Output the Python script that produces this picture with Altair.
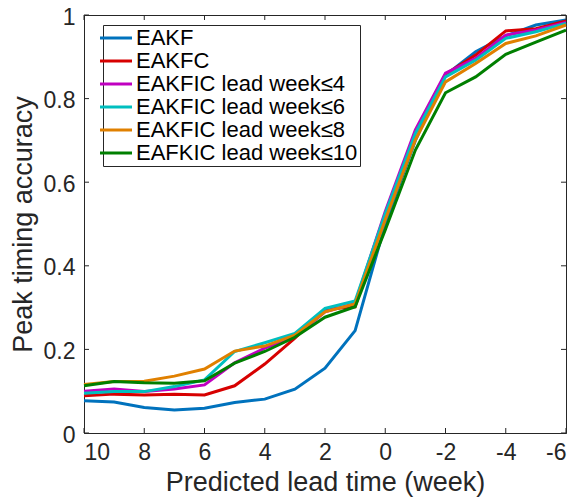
import altair as alt
import pandas as pd

weeks = [10, 9, 8, 7, 6, 5, 4, 3, 2, 1, 0, -1, -2, -3, -4, -5, -6]

series_names = [
    "EAKF",
    "EAKFC",
    "EAKFIC lead week≤4",
    "EAKFIC lead week≤6",
    "EAKFIC lead week≤8",
    "EAFKIC lead week≤10",
]
series_colors = ["#0072BD", "#D70000", "#C000C0", "#00BFBF", "#E08000", "#007F00"]

eakf = [0.077, 0.074, 0.061, 0.055, 0.059, 0.073, 0.081, 0.105, 0.155, 0.245, 0.50, 0.70, 0.856, 0.912, 0.950, 0.976, 0.988]
eakfc = [0.089, 0.093, 0.091, 0.093, 0.091, 0.113, 0.165, 0.227, 0.296, 0.302, 0.52, 0.72, 0.858, 0.904, 0.962, 0.967, 0.986]
eakfic4 = [0.100, 0.105, 0.099, 0.105, 0.115, 0.168, 0.203, 0.230, 0.290, 0.310, 0.53, 0.725, 0.861, 0.896, 0.952, 0.964, 0.982]
eakfic6 = [0.095, 0.099, 0.099, 0.111, 0.127, 0.195, 0.216, 0.238, 0.298, 0.316, 0.525, 0.717, 0.852, 0.892, 0.944, 0.960, 0.980]
eakfic8 = [0.116, 0.123, 0.124, 0.136, 0.153, 0.196, 0.208, 0.234, 0.290, 0.309, 0.51, 0.701, 0.840, 0.884, 0.932, 0.950, 0.976]
eakfic10 = [0.113, 0.123, 0.120, 0.119, 0.125, 0.167, 0.195, 0.229, 0.277, 0.302, 0.486, 0.677, 0.814, 0.852, 0.906, 0.935, 0.964]

x_ticks = [10, 8, 6, 4, 2, 0, -2, -4, -6]
y_ticks = [0, 0.2, 0.4, 0.6, 0.8, 1.0]

all_series = [eakf, eakfc, eakfic4, eakfic6, eakfic8, eakfic10]
rows = []
for order, (name, vals) in enumerate(zip(series_names, all_series)):
    for w, v in zip(weeks, vals):
        rows.append({"week": w, "acc": v, "series": name, "order": order})
df = pd.DataFrame(rows)

W, H = 482, 418
FONT = "Liberation Sans"
AX = "#262626"

xscale = alt.Scale(domain=[-6, 10], reverse=True, nice=False)
yscale = alt.Scale(domain=[0, 1], nice=False)

lines = alt.Chart(df).mark_line(strokeWidth=3).encode(
    x=alt.X("week:Q", scale=xscale,
            axis=alt.Axis(values=x_ticks, title="Predicted lead time (week)",
                          labelExpr="'' + datum.value", tickSize=0,
                          labelPadding=8, titlePadding=5, grid=False)),
    y=alt.Y("acc:Q", scale=yscale,
            axis=alt.Axis(values=y_ticks, title="Peak timing accuracy",
                          format="~g", tickSize=0, labelPadding=9,
                          labelBaseline="alphabetic", labelOffset=9,
                          titlePadding=6, grid=False)),
    color=alt.Color("series:N",
                    scale=alt.Scale(domain=series_names, range=series_colors),
                    sort=series_names,
                    legend=alt.Legend(title=None, orient="none", legendX=19, legendY=10)),
    order=alt.Order("order:Q"),
)

xt = pd.DataFrame({"tx": x_ticks})
yt = pd.DataFrame({"ty": y_ticks})

bottom_ticks = alt.Chart(xt).mark_rule(color=AX, strokeWidth=1).encode(
    x=alt.X("tx:Q", scale=xscale), y=alt.value(H), y2=alt.value(H - 5))
top_ticks = alt.Chart(xt).mark_rule(color=AX, strokeWidth=1).encode(
    x=alt.X("tx:Q", scale=xscale), y=alt.value(0), y2=alt.value(5))
left_ticks = alt.Chart(yt).mark_rule(color=AX, strokeWidth=1).encode(
    y=alt.Y("ty:Q", scale=yscale), x=alt.value(0), x2=alt.value(5))
right_ticks = alt.Chart(yt).mark_rule(color=AX, strokeWidth=1).encode(
    y=alt.Y("ty:Q", scale=yscale), x=alt.value(W), x2=alt.value(W - 5))

chart = alt.layer(lines, bottom_ticks, top_ticks, left_ticks, right_ticks).properties(
    width=W, height=H,
    autosize=alt.AutoSizeParams(type="none"),
    padding={"left": 76, "top": 7, "right": 4, "bottom": 66},
).configure_view(
    stroke=AX, strokeWidth=1
).configure_axis(
    labelFont=FONT, titleFont=FONT, labelFontSize=23, titleFontSize=27,
    labelColor=AX, titleColor=AX, domainColor=AX, titleFontWeight="normal",
).configure_legend(
    labelFont=FONT, labelFontSize=22, labelColor="black",
    symbolType="M-2.625,0M-2,0H2", symbolSize=256, symbolStrokeWidth=3,
    strokeColor=AX, fillColor="white", padding=2, rowPadding=1,
    labelOffset=9, labelLimit=400,
)

chart.save("out.html", embed_options={"renderer": "svg", "actions": False})
